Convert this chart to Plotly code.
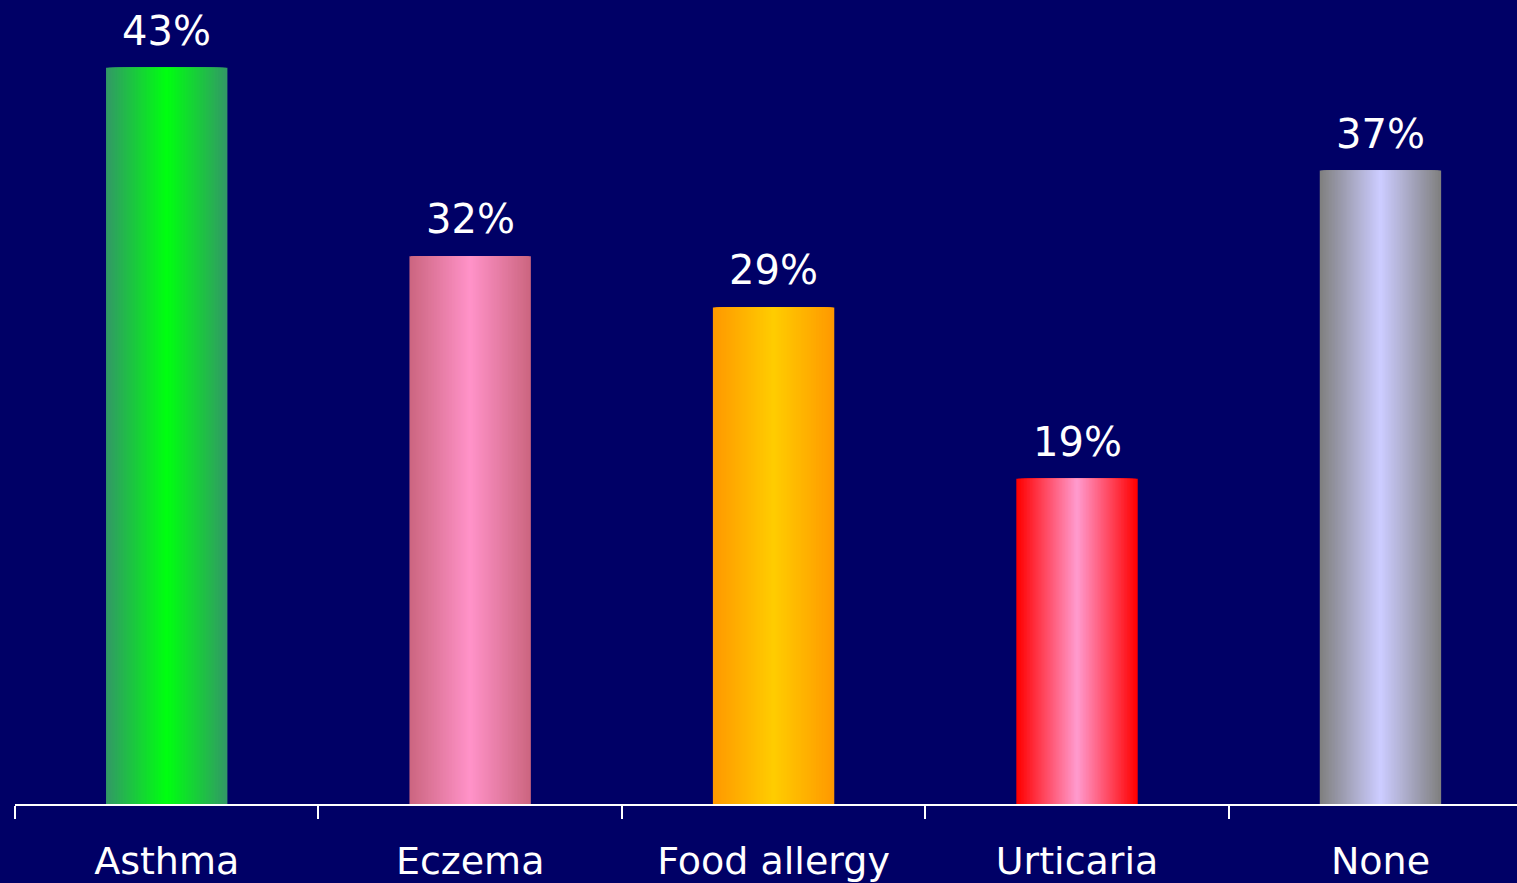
import plotly.graph_objects as go

categories = ["Asthma", "Eczema", "Food allergy", "Urticaria", "None"]
values = [43, 32, 29, 19, 37]
labels = ["43%", "32%", "29%", "19%", "37%"]
edge_colors = ["#339966", "#CC6680", "#FF9900", "#FF0000", "#808080"]
center_colors = ["#00FF11", "#FF92C8", "#FFCC00", "#FF99CC", "#CCCCFF"]

BG = "#000066"
BAR_WIDTH = 0.40
STEPS = 40


def hex_to_rgb(h):
    h = h.lstrip("#")
    return tuple(int(h[i:i + 2], 16) for i in (0, 2, 4))


def mix(c1, c2, t):
    a, b = hex_to_rgb(c1), hex_to_rgb(c2)
    return "rgb({},{},{})".format(*[round(a[i] + (b[i] - a[i]) * t) for i in range(3)])


fig = go.Figure()
# Simulated horizontal gradient: overlaid bars of decreasing width
for k in range(STEPS):
    t = k / (STEPS - 1)
    w = BAR_WIDTH * (1 - k / STEPS)
    fig.add_trace(go.Bar(
        x=categories,
        y=values,
        width=w,
        marker=dict(color=[mix(e, c, t) for e, c in zip(edge_colors, center_colors)],
                    line=dict(width=0)),
        showlegend=False,
        hoverinfo="skip" if k else "y",
    ))

for cat, v, lab in zip(categories, values, labels):
    fig.add_annotation(x=cat, y=v, text=lab, showarrow=False,
                       yanchor="bottom", yshift=12,
                       font=dict(family="DejaVu Sans", size=40, color="white"))

fig.update_layout(
    width=1517, height=883,
    paper_bgcolor=BG, plot_bgcolor=BG,
    barmode="overlay",
    margin=dict(l=15, r=0, t=0, b=79),
    showlegend=False,
)
fig.update_xaxes(
    type="category",
    range=[-0.5, 4.45],
    showline=True, linecolor="white", linewidth=2,
    ticks="outside", tickson="boundaries", ticklen=13, tickwidth=2, tickcolor="white",
    tickfont=dict(family="DejaVu Sans", size=38, color="white"),
    ticklabelstandoff=22,
    showgrid=False, zeroline=False,
    layer="below traces",
)
fig.update_yaxes(range=[0, 46.96], visible=False, showgrid=False, zeroline=False)

fig.write_html("out.html", config={"displayModeBar": False},
               post_script="document.body.style.margin='0';document.body.style.background='#000066';")
